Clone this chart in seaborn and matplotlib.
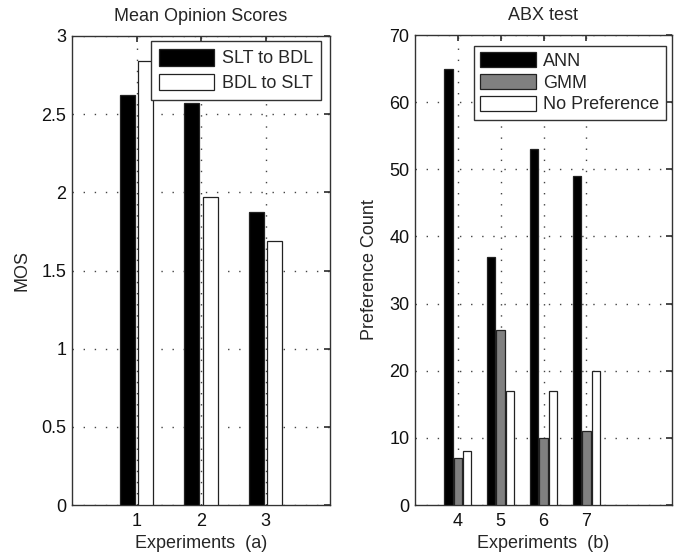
import numpy as np
import pandas as pd
import matplotlib
matplotlib.use("Agg")
import matplotlib.pyplot as plt
import seaborn as sns

# ---- data ----
mos_experiments = [1, 2, 3]
mos_slt_to_bdl = [2.62, 2.57, 1.875]
mos_bdl_to_slt = [2.84, 1.97, 1.69]
mos_series = ["SLT to BDL", "BDL to SLT"]

abx_experiments = [4, 5, 6, 7]
abx_ann = [65, 37, 53, 49]
abx_gmm = [7, 26, 10, 11]
abx_nopref = [8, 17, 17, 20]
abx_series = ["ANN", "GMM", "No Preference"]

mos_df = pd.DataFrame({
    "exp": mos_experiments * 2,
    "val": mos_slt_to_bdl + mos_bdl_to_slt,
    "series": [mos_series[0]] * 3 + [mos_series[1]] * 3,
})
abx_df = pd.DataFrame({
    "exp": abx_experiments * 3,
    "val": abx_ann + abx_gmm + abx_nopref,
    "series": [abx_series[0]] * 4 + [abx_series[1]] * 4 + [abx_series[2]] * 4,
})

sns.set_theme(style="white")
plt.rcParams["font.family"] = ["Liberation Sans", "DejaVu Sans"]
FS = 13
plt.rcParams.update({
    "font.size": FS,
    "axes.edgecolor": "#333333",
    "axes.linewidth": 1.0,
    "xtick.direction": "in",
    "ytick.direction": "in",
    "xtick.top": True,
    "ytick.right": True,
    "xtick.major.size": 4,
    "ytick.major.size": 4,
    "xtick.major.pad": 6,
    "ytick.major.pad": 4,
    "xtick.color": "#333333",
    "ytick.color": "#333333",
    "xtick.labelcolor": "#111111",
    "ytick.labelcolor": "#111111",
    "xtick.labelsize": FS,
    "ytick.labelsize": FS,
})

fig = plt.figure(figsize=(6.79, 5.55), dpi=100)
ax1 = fig.add_axes([72 / 679, 50 / 555, 258 / 679, 469 / 555])
ax2 = fig.add_axes([415 / 679, 50 / 555, 257 / 679, 470 / 555])

grid_kw = dict(color="#444444", linestyle=(0, (1, 7)), linewidth=1.0)

# ---- MOS ----
sns.barplot(data=mos_df, x="exp", y="val", hue="series", hue_order=mos_series,
            palette=["black", "white"], native_scale=True, width=0.58, gap=0.2,
            edgecolor="#222222", linewidth=0.9, ax=ax1, legend=True, zorder=3)
ax1.set_xlim(0, 4)
ax1.set_ylim(0, 3)
ax1.set_xticks(mos_experiments)
ax1.set_xticklabels([str(v) for v in mos_experiments])
ax1.set_yticks([0, 0.5, 1, 1.5, 2, 2.5, 3])
ax1.set_yticklabels(["0", "0.5", "1", "1.5", "2", "2.5", "3"])
ax1.grid(True, **grid_kw)
ax1.set_axisbelow(True)
ax1.set_title("Mean Opinion Scores", fontsize=FS, pad=11)
ax1.set_xlabel("Experiments  (a)", fontsize=FS, labelpad=3)
ax1.set_ylabel("MOS", fontsize=FS, labelpad=8)
h, l = ax1.get_legend_handles_labels()
ax1.legend(h, l, loc="upper right", bbox_to_anchor=(0.965, 0.99), borderaxespad=0,
           handlelength=3.05, handleheight=1.05, fancybox=False, framealpha=1,
           edgecolor="#333333", fontsize=FS, borderpad=0.45, labelspacing=0.35,
           handletextpad=0.4)

# ---- ABX ----
sns.barplot(data=abx_df, x="exp", y="val", hue="series", hue_order=abx_series,
            palette=["black", "#808080", "white"], native_scale=True, width=0.66,
            gap=0.1, edgecolor="#222222", linewidth=0.9, ax=ax2, legend=True, zorder=3)
ax2.set_xlim(3, 9)
ax2.set_ylim(0, 70)
ax2.set_xticks(abx_experiments)
ax2.set_xticklabels([str(v) for v in abx_experiments])
ax2.set_yticks(list(range(0, 71, 10)))
ax2.grid(True, **grid_kw)
ax2.set_axisbelow(True)
ax2.set_title("ABX test", fontsize=FS, pad=11)
ax2.set_xlabel("Experiments  (b)", fontsize=FS, labelpad=3)
ax2.set_ylabel("Preference Count", fontsize=FS, labelpad=8)
h, l = ax2.get_legend_handles_labels()
ax2.legend(h, l, loc="upper right", bbox_to_anchor=(0.975, 0.977), borderaxespad=0,
           handlelength=3.1, handleheight=0.9, fancybox=False, framealpha=1,
           edgecolor="#333333", fontsize=FS, borderpad=0.35, labelspacing=0.22,
           handletextpad=0.4)

fig.savefig("out.png", dpi=100, facecolor="white")
